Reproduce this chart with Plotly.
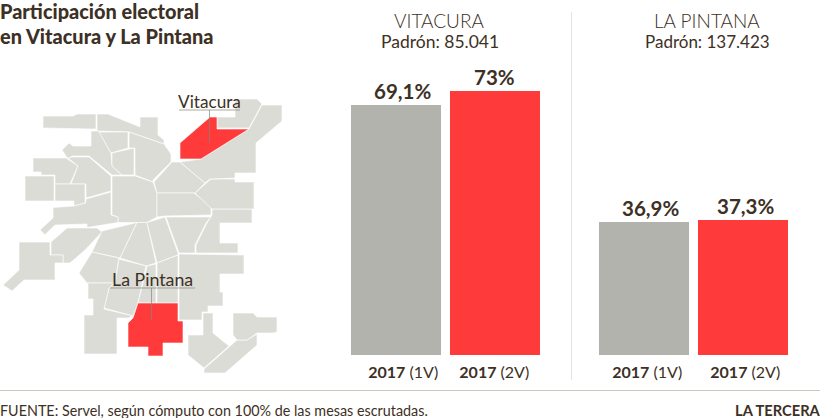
import plotly.graph_objects as go

DARK = "#3d3024"
GRAY = "#b2b3ac"
RED = "#ff3a3a"
MAP_GRAY = "#dcdcd7"
FONT = "Lato"

rounds = ["2017 (1V)", "2017 (2V)"]
round_labels = ["<b>2017</b> (1V)", "<b>2017</b> (2V)"]
vitacura_values = [69.1, 73]
vitacura_labels = ["69,1%", "73%"]
pintana_values = [36.9, 37.3]
pintana_labels = ["36,9%", "37,3%"]

# Comunas del mapa
map_gray = [
    [(43,116),(73,116),(77,114),(96,114),(96,129),(91,129),(43,128)],
    [(97,114),(108,114),(140,127),(140,117),(158,117),(158,135),(164,140),(164,144),(129,132),(97,131)],
    [(91,131),(99,131),(111,153),(112,166),(122,175),(112,175),(89,156),(72,156),(68,159),(62,150),(69,143),(73,146),(91,146)],
    [(99,132),(128,132),(128,148),(111,153)],
    [(129,132),(164,144),(171,154),(171,162),(153,180),(153,182),(135,175),(135,148),(129,148)],
    [(112,153),(134,148),(134,175),(122,175),(112,166)],
    [(33,158),(66,158),(78,166),(70,184),(55,184),(55,175),(41,175),(41,172),(33,172)],
    [(72,157),(89,157),(111,176),(111,191),(86,198),(86,184),(71,184),(78,166),(68,158)],
    [(25,176),(54,176),(54,201),(25,201)],
    [(55,184),(85,184),(85,203),(74,206),(74,201),(55,201)],
    [(112,176),(135,176),(153,182),(157,193),(157,217),(147,222.5),(118,222.5),(118,217),(112,215)],
    [(53,207.5),(74,206),(85.5,203),(86,199),(111,192),(111,215),(118,217),(118,222.5),(87,227.5),(87,224),(55,225),(45,234.7),(40,230),(53,218)],
    [(67,228),(97,228),(102,232),(85,250),(70,263),(63,263),(63,255),(51,255),(51,242)],
    [(19,242),(50,242),(50,255),(63,255),(63,263),(55,263),(55,280),(24,280),(12,291),(3,285),(19,270)],
    [(102,231),(137,222.5),(120,258),(92,252)],
    [(92,252),(119,258),(115,283),(87,283),(79,273)],
    [(137,222.5),(147,222.5),(156,263),(146,266),(120,258)],
    [(147,222.5),(165,217),(178,253),(178,255),(157,263)],
    [(166,217),(211,217),(206,223),(195,245),(195,253),(179,253)],
    [(212,209),(252,209),(252,223),(220,223),(220,243),(238,243),(238,253),(196,253),(196,245),(207,223),(212,215)],
    [(179,254),(244,255),(244,274),(220,274),(220,292),(223,292),(223,306),(208,306),(208,312),(202,312),(202,320),(179,320)],
    [(119,259),(146,266),(138,303),(133,316),(104,308),(109,288),(115,283)],
    [(147,266),(156,264),(156,303),(138,303)],
    [(157,263),(178,255),(178,303),(157,303)],
    [(88,283),(88,299),(93,299),(93,315),(84,315),(84,354),(117,354),(117,318),(128,318),(133,316),(104,309),(109,288),(114,283)],
    [(203,313),(213,313),(213,333),(229,346),(204,368),(188,355),(188,335),(203,335)],
    [(257,334),(257,345),(225,373),(204,373),(204,369),(237,340),(247,340)],
    [(233,313),(253,313),(257,317),(277,317),(277,332),(273,333),(257,333),(247,340),(237,340),(233,335)],
    [(172,162),(180,162),(205,183),(195,193),(157,193),(154,182)],
    [(157,193),(194,193),(211,206),(211,215),(165,216),(157,217)],
    [(211,179),(235,179),(235,182),(254,182),(254,209),(212,209),(195,193)],
    [(262,105),(282,105),(282,121),(256,143),(256,173),(235,173),(235,178),(210,179),(205,183),(180,162),(201,159),(249,129)],
    [(235,99),(257,99),(262,104),(249,128),(217,128),(217,117),(235,117)],
]
map_red = [
    [(210,117),(217,117),(217,129),(249,129),(201,159),(180,159),(180,143)],
    [(138,303),(178,303),(178,321),(183,321),(183,343),(163,343),(163,356),(148,356),(148,347),(128,347),(128,323),(133,318)],
]
leaders = [
    [(179,110),(240,110)],
    [(209.5,110),(209.5,143)],
    [(110,288),(195,288)],
    [(151.5,288),(151.5,320)],
]

fig = go.Figure()

def poly(points, color, xaxis="x3", yaxis="y3"):
    xs = [p[0] for p in points] + [points[0][0]]
    ys = [p[1] for p in points] + [points[0][1]]
    fig.add_trace(go.Scatter(x=xs, y=ys, mode="lines", fill="toself", fillcolor=color,
                             line=dict(color="white", width=0.6), hoverinfo="skip",
                             xaxis=xaxis, yaxis=yaxis, showlegend=False))

for p in map_gray:
    poly(p, MAP_GRAY)
for p in map_red:
    poly(p, RED)
for seg in leaders:
    fig.add_trace(go.Scatter(x=[q[0] for q in seg], y=[q[1] for q in seg], mode="lines",
                             line=dict(color="#8a857d", width=0.7), hoverinfo="skip",
                             xaxis="x3", yaxis="y3", showlegend=False))

def bars(values, xa, ya):
    fig.add_trace(go.Bar(x=rounds, y=values, width=90/99, marker=dict(color=[GRAY, RED], line=dict(width=0)),
                         cliponaxis=False, hoverinfo="skip",
                         xaxis=xa, yaxis=ya, showlegend=False))

bars(vitacura_values, "x", "y")
bars(pintana_values, "x2", "y2")

W, H = 820, 418
x_common = dict(type="category", categoryorder="array", categoryarray=rounds, tickmode="array",
                ticktext=round_labels, range=[-0.5, 1.5], showgrid=False, zeroline=False,
                showline=False, ticks="outside", ticklen=3, tickcolor="white",
                tickfont=dict(family=FONT, size=16, color=DARK))
y_common = dict(range=[0, 355/3.616], domain=[63/H, 1], visible=False, fixedrange=True)

def ann(x, y, text, size, weight="normal", **kw):
    return dict(x=x, y=y, xref="paper", yref="paper", text=text, showarrow=False,
                font=dict(family=FONT, size=size, color=DARK, weight=weight), **kw)

def value_labels(values, labels, xa, ya, shifts):
    return [dict(x=r, y=v, xref=xa, yref=ya, text=t, showarrow=False, xanchor="center", yanchor="middle",
                 xshift=s, yshift=14, font=dict(family=FONT, size=20.5, color=DARK, weight="bold"))
            for r, v, t, s in zip(rounds, values, labels, shifts)]

annotations = [
    ann(0, 1-11/H, "Participación electoral", 19.9, weight=900, xanchor="left", yanchor="middle", xshift=-2.5),
    ann(0, 1-36/H, "en Vitacura y La Pintana", 19.9, weight=900, xanchor="left", yanchor="middle", xshift=-2.5),
    ann(439/W, 1-21/H, "VITACURA", 19, weight=300, xanchor="center", yanchor="middle"),
    ann(439.5/W, 1-42/H, "Padrón: 85.041", 17.5, xanchor="center", yanchor="middle"),
    ann(707/W, 1-21/H, "LA PINTANA", 19, weight=300, xanchor="center", yanchor="middle"),
    ann(707.5/W, 1-42/H, "Padrón: 137.423", 17, xanchor="center", yanchor="middle"),
    ann(209.5/W, 1-101.5/H, "Vitacura", 17.2, xanchor="center", yanchor="middle"),
    ann(152/W, 1-279/H, "La Pintana", 17.8, xanchor="center", yanchor="middle"),
    ann(0, 1-410/H, "FUENTE: Servel, según cómputo con 100% de las mesas escrutadas.", 14.35, xanchor="left", yanchor="middle", xshift=-2),
    ann(1, 1-410/H, "LA TERCERA", 14.7, weight="bold", xanchor="right", yanchor="middle", xshift=3),
]
annotations += value_labels(vitacura_values, vitacura_labels, "x", "y", [7, 0])
annotations += value_labels(pintana_values, pintana_labels, "x2", "y2", [7, 3])

fig.update_layout(
    width=W, height=H, autosize=False, margin=dict(l=0, r=0, t=0, b=0),
    paper_bgcolor="white", plot_bgcolor="white", showlegend=False, bargap=0,
    xaxis=dict(domain=[345.8/W, 543.8/W], anchor="y", tickvals=[0.08, 1], **x_common),
    yaxis=dict(anchor="x", **y_common),
    xaxis2=dict(domain=[593.8/W, 791.8/W], anchor="y2", tickvals=[0.04, 1.03], **x_common),
    yaxis2=dict(anchor="x2", **y_common),
    xaxis3=dict(domain=[0, 300/W], range=[0, 300], visible=False, fixedrange=True, anchor="y3"),
    yaxis3=dict(domain=[0, 1], range=[H, 0], visible=False, fixedrange=True, anchor="x3"),
    annotations=annotations,
    shapes=[
        dict(type="line", xref="paper", yref="paper", x0=0, x1=1, y0=1-390.5/H, y1=1-390.5/H,
             line=dict(color="#c9c8bc", width=1)),
        dict(type="line", xref="paper", yref="paper", x0=571.5/W, x1=571.5/W, y0=1-12/H, y1=1-380/H,
             line=dict(color="#e3e3e0", width=1)),
    ],
)
fig.write_html("out.html", config=dict(displayModeBar=False),
               post_script="document.body.style.margin='0';document.body.style.overflow='hidden';")
